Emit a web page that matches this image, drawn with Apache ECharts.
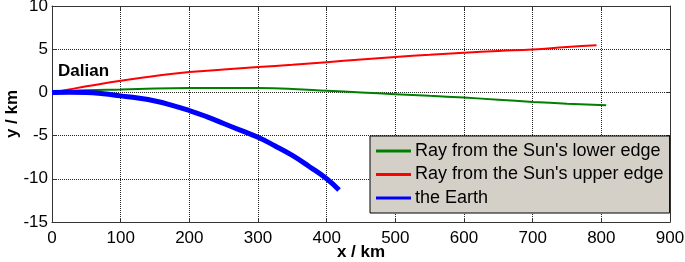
<!DOCTYPE html>
<html lang="en" style="height: 100%">
<head>
    <meta charset="UTF-8">
    <title>Rays and the Earth</title>
    <script src="https://cdn.jsdelivr.net/npm/echarts@6/dist/echarts.min.js"></script>
</head>
<body style="height: 100%; margin: 0; background: #fff">
    <div id="main" style="width: 685px; height: 262px"></div>
    <script>
        // values (km)
        var lowerX = [0, 25, 50, 100, 150, 200, 250, 300, 350, 400, 450, 500, 550, 600, 650, 700, 750, 807];
        var lowerY = [0, 0.15, 0.25, 0.35, 0.45, 0.5, 0.52, 0.5, 0.4, 0.2, 0.0, -0.2, -0.4, -0.6, -0.85, -1.1, -1.3, -1.5];
        var upperX = [0, 25, 50, 100, 150, 200, 250, 300, 350, 400, 450, 500, 550, 600, 650, 700, 750, 793];
        var upperY = [0, 0.35, 0.7, 1.35, 1.9, 2.35, 2.65, 2.93, 3.2, 3.5, 3.8, 4.1, 4.35, 4.6, 4.8, 4.97, 5.25, 5.45];
        var earthX = [0, 25, 50, 75, 100, 125, 150, 175, 200, 225, 250, 275, 300, 325, 350, 375, 400, 418];
        var earthY = [0, 0.02, 0, -0.15, -0.4, -0.65, -1.0, -1.5, -2.1, -2.8, -3.6, -4.4, -5.2, -6.2, -7.3, -8.6, -10, -11.3];
        var xTicks = [0, 100, 200, 300, 400, 500, 600, 700, 800, 900];
        var yTicks = [-15, -10, -5, 0, 5, 10];

        function pairs(xs, ys) {
            var out = [];
            for (var i = 0; i < xs.length; i++) {
                out.push([xs[i], ys[i]]);
            }
            return out;
        }

        var font = 'Arial, "Liberation Sans", sans-serif';
        var myChart = echarts.init(document.getElementById('main'), null, { renderer: 'canvas' });

        var gridLine = { show: true, lineStyle: { color: '#222', type: [1, 1], width: 1 } };
        var frameLine = { show: true, onZero: false, lineStyle: { color: '#333', width: 1 } };
        var tick = { show: true, inside: true, length: 4, lineStyle: { color: '#333' } };

        var option = {
            animation: false,
            backgroundColor: '#fff',
            grid: { left: 52, right: 15, top: 6, bottom: 40, outerBoundsMode: 'none', containLabel: false },
            graphic: [{
                type: 'text',
                left: 58,
                top: 63,
                style: { text: 'Dalian', font: 'bold 17px ' + font, fill: '#000' }
            }],
            legend: {
                orient: 'vertical',
                left: 370,
                top: 136,
                padding: [5, 6, 5, 6],
                itemGap: 3.5,
                itemWidth: 35,
                itemHeight: 3,
                backgroundColor: '#d4d0c8',
                borderColor: '#000',
                borderWidth: 1,
                borderRadius: 0,
                textStyle: { fontSize: 18, fontFamily: font, color: '#000', lineHeight: 20, padding: [0, 0, 0, -1] },
                data: [
                    { name: "Ray from the Sun's lower edge", icon: 'rect' },
                    { name: "Ray from the Sun's upper edge", icon: 'rect' },
                    { name: 'the Earth', icon: 'rect' }
                ]
            },
            xAxis: [{
                type: 'value',
                min: xTicks[0],
                max: xTicks[xTicks.length - 1],
                interval: 100,
                name: 'x / km',
                nameLocation: 'middle',
                nameGap: 22,
                nameMoveOverlap: false,
                nameTextStyle: { fontSize: 17, fontWeight: 'bold', fontFamily: font, color: '#000' },
                axisLine: frameLine,
                axisTick: tick,
                axisLabel: { fontSize: 17, fontFamily: font, color: '#000', margin: 8 },
                splitLine: gridLine
            }, {
                type: 'value',
                position: 'top',
                min: xTicks[0],
                max: xTicks[xTicks.length - 1],
                interval: 100,
                axisLine: frameLine,
                axisTick: tick,
                axisLabel: { show: false },
                splitLine: { show: false }
            }],
            yAxis: [{
                type: 'value',
                min: yTicks[0],
                max: yTicks[yTicks.length - 1],
                interval: 5,
                name: 'y / km',
                nameLocation: 'middle',
                nameGap: 31,
                nameMoveOverlap: false,
                nameTextStyle: { fontSize: 17, fontWeight: 'bold', fontFamily: font, color: '#000' },
                axisLine: frameLine,
                axisTick: tick,
                axisLabel: { fontSize: 17, fontFamily: font, color: '#000', margin: 4 },
                splitLine: gridLine
            }, {
                type: 'value',
                position: 'right',
                min: yTicks[0],
                max: yTicks[yTicks.length - 1],
                interval: 5,
                axisLine: frameLine,
                axisTick: tick,
                axisLabel: { show: false },
                splitLine: { show: false }
            }],
            series: [{
                name: "Ray from the Sun's lower edge",
                type: 'line',
                data: pairs(lowerX, lowerY),
                smooth: true,
                showSymbol: false,
                color: '#008000',
                lineStyle: { width: 2 }
            }, {
                name: "Ray from the Sun's upper edge",
                type: 'line',
                data: pairs(upperX, upperY),
                smooth: true,
                showSymbol: false,
                color: '#ff0000',
                lineStyle: { width: 2 }
            }, {
                name: 'the Earth',
                type: 'line',
                data: pairs(earthX, earthY),
                smooth: true,
                showSymbol: false,
                color: '#0000ff',
                lineStyle: { width: 5 }
            }]
        };

        myChart.setOption(option);
        window.addEventListener('resize', myChart.resize);
    </script>
</body>
</html>
